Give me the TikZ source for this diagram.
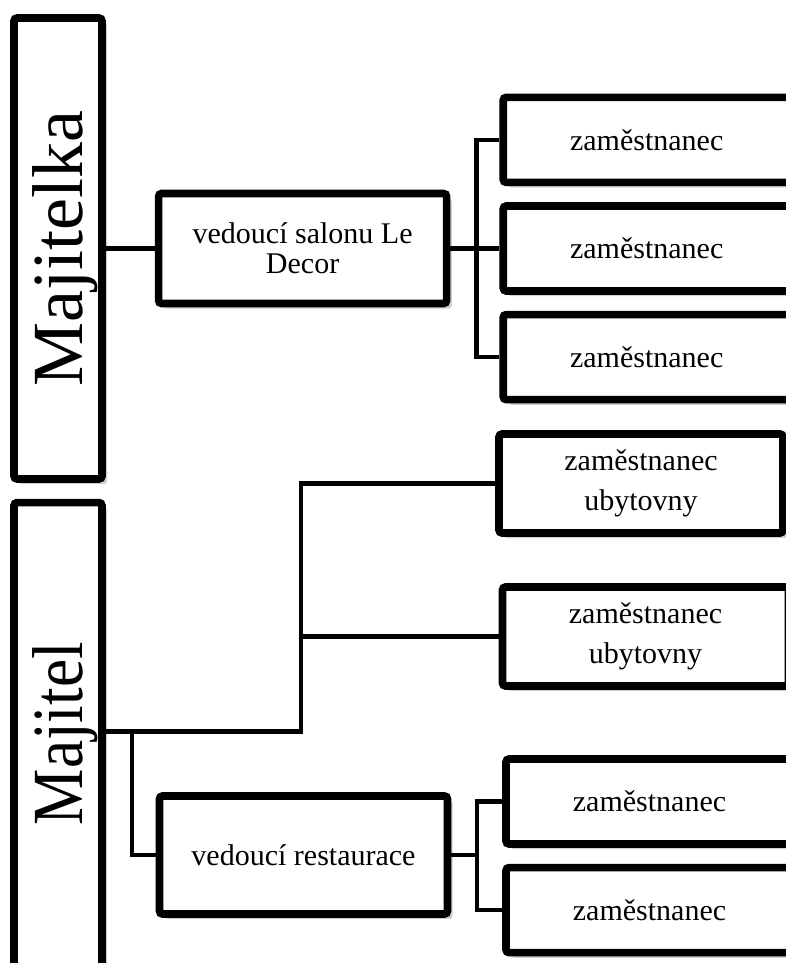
\documentclass[tikz,border=0pt]{standalone}
\usepackage{fontspec}
\setmainfont{Liberation Serif}
\usetikzlibrary{positioning, shadows}
\newcommand{\sidetext}[1]{\rotatebox{90}{\raisebox{0pt}[\height][0pt]{#1}}}

\begin{document}
\begin{tikzpicture}[
          x = 0.5pt, y = -0.5pt,
     node distance = 8pt and 24.5pt,
        box/.style = {rectangle, draw, line width=3.8pt, rounded corners=1.5pt, fill=white,
                      drop shadow={shadow xshift=2.6pt, shadow yshift=-2.6pt, fill=black!30, opacity=.6},
                      align=center, font=\fontsize{15}{15}\selectfont},
       obox/.style = {box, minimum width=44pt, minimum height=230.5pt, font=\fontsize{36}{36}\selectfont},
       vbox/.style = {box, minimum width=144pt, minimum height=55pt},
       zbox/.style = {box, minimum width=143.5pt, minimum height=42.5pt},
       ubox/.style = {zbox, minimum width=143pt, minimum height=49.5pt, font=\fontsize{15}{20}\selectfont},
       conn/.style = {line width=2.2pt}
                        ]
\useasboundingbox (0,0) rectangle (786,963);
\clip (0,0) rectangle (786,963);
\node (majitelka) [obox] at (58,248.5) {\sidetext{Majitelka}};
\node (majitel)   [obox, minimum height=237pt, below=of majitelka] {\sidetext{\hspace{6pt}\scalebox{.88}[1]{Majitel}}};
\node (salon) [vbox, right=of majitelka] {vedoucí salonu Le\\ Decor};
\node (zam2)  [zbox, right=of salon] {zaměstnanec};
\node (zam1)  [zbox, above=of zam2] {zaměstnanec};
\node (zam3)  [zbox, below=of zam2] {zaměstnanec};
\node (uby1)  [ubox, minimum width=142pt] at (641,483.5) {zaměstnanec\\ ubytovny};
\node (uby2)  [ubox] at (645.5,636.5) {zaměstnanec\\ ubytovny};
\node (rest)  [vbox, minimum height=59pt] at (303.5,855) {vedoucí restaurace};
\node (zam4)  [zbox] at (649.5,801.5) {zaměstnanec};
\node (zam5)  [zbox, below=of zam4] {zaměstnanec};
\draw[conn] (majitelka) -- (salon);
\draw[conn] (salon) -- (zam2);
\draw[conn] (zam1.west) -- ++(-23,0) |- (zam3.west);
\draw[conn] (majitel.east |- 0,731.5) -- ++(195,0) |- (uby1.west);
\draw[conn] (uby2.west) -- ++(-197.5,0);
\draw[conn] (majitel.east |- 0,731.5) ++(26,0) |- (rest.west);
\draw[conn] (rest.east) -- ++(26,0);
\draw[conn] (zam4.west) -- ++(-25,0) |- (zam5.west);
\end{tikzpicture}
\end{document}
